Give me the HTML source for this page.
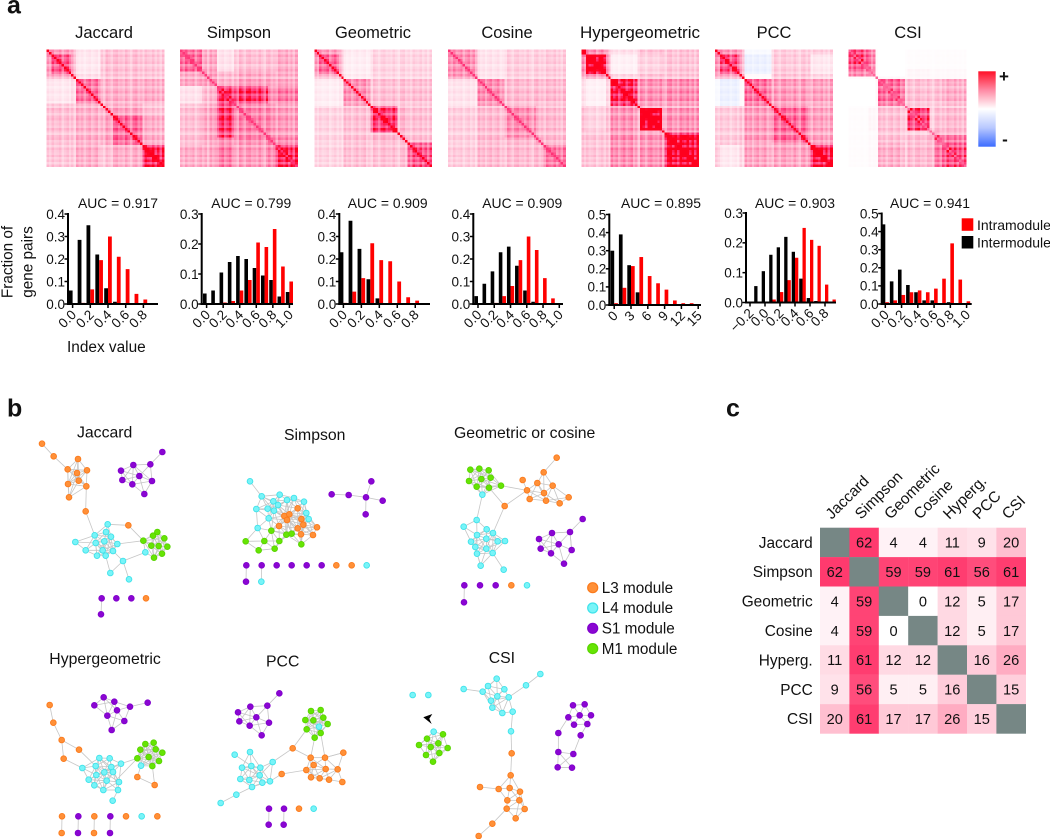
<!DOCTYPE html>
<html lang="en">
<head>
<meta charset="utf-8">
<title>Similarity index comparison</title>
<style>
html,body{margin:0;padding:0;background:#fff;}
svg{display:block;}
text{font-family:"Liberation Sans",Arial,sans-serif;fill:#111;}
</style>
</head>
<body>
<svg id="fig" xmlns="http://www.w3.org/2000/svg" width="1050" height="839" viewBox="0 0 1050 839">
<defs>
<linearGradient id="cbar" x1="0" y1="0" x2="0" y2="1">
<stop offset="0" stop-color="#ff1028"/><stop offset="0.25" stop-color="#ff8aa4"/><stop offset="0.5" stop-color="#ffffff"/><stop offset="0.75" stop-color="#b8c8ff"/><stop offset="1" stop-color="#3c6cff"/>
</linearGradient>
</defs>
<rect x="0" y="0" width="1050" height="839" fill="#fff"/>
<text x="7" y="13.5" font-size="25" font-weight="bold">a</text>
<text x="7" y="416.5" font-size="25" font-weight="bold">b</text>
<text x="726" y="416.5" font-size="25" font-weight="bold">c</text>
<rect x="978.3" y="71.3" width="17.4" height="75.4" fill="url(#cbar)"/>
<text x="1004" y="82" font-size="17" font-weight="bold" text-anchor="middle">+</text>
<text x="1005" y="145" font-size="17" font-weight="bold" text-anchor="middle">-</text>
<text transform="translate(12.5,262) rotate(-90)" font-size="15.3" text-anchor="middle">Fraction of</text>
<text transform="translate(32.5,262) rotate(-90)" font-size="15.3" text-anchor="middle">gene pairs</text>
<text x="67" y="352" font-size="15.4">Index value</text>
<rect x="961.7" y="218.3" width="11.6" height="12.5" fill="#ff0000"/>
<text x="977" y="230" font-size="14">Intramodule</text>
<rect x="961.7" y="236" width="11.6" height="12.5" fill="#000"/>
<text x="977" y="247.5" font-size="14">Intermodule</text>
<polygon points="423.3,717.3 432.3,714 429.3,718.7 431.7,724" fill="#000"/>
</svg>
<script>
// ---------- heatmap data: gene counts per block and upper-triangle block values (percent) ----------
const geneFactor = [1.05,.9,1.1,.95,1.0,1.1,.85,1.0,1.1,.9,1.05,.8,1.1,.95,1.05,.85,1.0,1.1,.9,1.0,1.1,.85,.95,.8,1.1,1.0,.85,1.05,1.1,.95,1.0,.9,1.1,.95,.8,1.05,1.1,.9,1.0,.85,1.1,1.0,.95,1.1,.9,1.05,.85,1.1];
const jaccardBands = [2,8,2,10,5,12,9];
const jaccardValues = [[40,35,30,10,22,22,20],[55,30,8,22,22,20],[30,12,22,22,20],[48,28,28,28],[30,32,22],[52,28],[78]];
const simpsonBands = [9,6,7,14,3,9];
const simpsonValues = [[50,30,10,22,22,28],[35,25,32,30,30],[72,72,40,45],[44,40,35],[45,40],[75]];
const geometricBands = [2,8,2,11,11,4,10];
const geometricValues = [[45,35,25,8,15,15,15],[50,25,6,15,15,15],[25,8,15,15,15],[38,22,22,22],[68,25,22],[25,22],[58]];
const cosineBands = [12,11,13,3,9];
const cosineValues = [[38,10,17,17,18],[40,24,24,24],[40,26,24],[28,24],[45]];
const hyperBands = [2,8,2,11,1,9,1,14];
const hyperValues = [[95,40,30,12,25,22,25,22],[100,35,5,20,15,20,20],[35,15,25,22,25,22],[80,40,38,35,40],[40,30,30,30],[100,30,38],[40,30],[95]];
const pccBands = [2,8,2,11,15,1,9];
const pccValues = [[40,38,30,-3,18,20,18],[60,30,-8,18,20,8],[35,2,22,22,15],[50,35,30,32],[52,35,32],[40,35],[82]];
const csiBands = [8,3,1,11,1,9,2,3,10];
const csiValues = [[62,42,2,0,1,1,1,1,1],[35,2,0,2,3,2,2,2],[5,4,3,3,3,3,3],[52,22,22,22,22,28],[25,22,22,22,20],[65,18,22,24],[30,30,28],[50,45],[62]];
const heatTitles = ['Jaccard','Simpson','Geometric','Cosine','Hypergeometric','PCC','CSI'];
const heatDiagonals = [100,78,100,80,100,100,60];

// ---------- histogram data ----------
const jaccardInter = [.06,.285,.35,.22,.07,.01,0,0,0,0];
const jaccardIntra = [0,.005,.065,.195,.30,.21,.155,.045,.02,0];
const simpsonInter = [.035,.045,.105,.14,.16,.15,.12,.095,.08,.025,.04];
const simpsonIntra = [0,0,.005,.01,.045,.08,.205,.19,.25,.125,.075];
const geometricInter = [.23,.37,.245,.11,.025,0,0,0,0,0];
const geometricIntra = [.005,.055,.115,.27,.195,.19,.10,.03,.015,0];
const cosineInter = [.035,.09,.145,.23,.255,.17,.06,.01,0,0,0];
const cosineIntra = [0,0,.005,.035,.08,.195,.30,.24,.115,.025,0];
const hyperInter = [.30,.39,.22,.07,.005,0,0,0,0,0,0,0];
const hyperIntra = [.01,.095,.215,.265,.16,.12,.085,.025,.01,.01,0,0];
const pccInter = [0,.055,.105,.16,.185,.22,.17,.08,.015,.005,0,0];
const pccIntra = [0,0,0,.01,.035,.075,.15,.25,.21,.19,.06,.01];
const csiInter = [.44,.125,.19,.105,.065,.02,.02,0,.01,0,0];
const csiIntra = [.01,.02,.05,.065,.075,.065,.085,.14,.335,.135,.015];
const aucLabels = ['AUC = 0.917','AUC = 0.799','AUC = 0.909','AUC = 0.909','AUC = 0.895','AUC = 0.903','AUC = 0.941'];
const ticks04 = [0,.1,.2,.3,.4];
const ticks03 = [0,.1,.2,.3];
const ticks05 = [0,.1,.2,.3,.4,.5];
const labels08 = ['0.0','0.2','0.4','0.6','0.8'];
const labels10 = ['0.0','0.2','0.4','0.6','0.8','1.0'];
const labelsHyper = ['0','3','6','9','12','15'];
const labelsPcc = ['\u22120.2','0.0','0.2','0.4','0.6','0.8'];

// ---------- overlap matrix data ----------
const matrixLabels = ['Jaccard','Simpson','Geometric','Cosine','Hyperg.','PCC','CSI'];
const matrixValues = [
[null,62,4,4,11,9,20],
[62,null,59,59,61,56,61],
[4,59,null,0,12,5,17],
[4,59,0,null,12,5,17],
[11,61,12,12,null,16,26],
[9,56,5,5,16,null,15],
[20,61,17,17,26,15,null]];

const NS = 'http://www.w3.org/2000/svg';
const fig = document.getElementById('fig');
function make(tag, parent, attrs, txt){
  const el = document.createElementNS(NS, tag);
  for (const k in attrs) el.setAttribute(k, attrs[k]);
  if (txt !== undefined) el.textContent = txt;
  parent.appendChild(el);
  return el;
}
function heatColor(v){
  if (v >= 0){
    const t = Math.min(1, v/100);
    const blue = t < .8 ? 255-170*t : 119-445*(t-.8);
    return 'rgb(255,' + Math.round(255*(1-t)) + ',' + Math.round(blue) + ')';
  }
  const t = Math.min(1, -v/100);
  return 'rgb(' + Math.round(255-195*t) + ',' + Math.round(255-155*t) + ',255)';
}

// ---------- heatmaps ----------
const heatBands = [jaccardBands,simpsonBands,geometricBands,cosineBands,hyperBands,pccBands,csiBands];
const heatValues = [jaccardValues,simpsonValues,geometricValues,cosineValues,hyperValues,pccValues,csiValues];
const heatLeft = [46.7,180,314.3,448,581.3,715,848.7];
const heatTop = 49.4, heatSize = 117.6;
const heatTitleX = [104,239,373,507,640,774,908];
heatTitles.forEach(function(title,m){
  const g = make('g', fig, {'shape-rendering':'crispEdges'});
  
  
  const bandOf = [];
  heatBands[m].forEach(function(n,b){ for (let k=0;k<n;k++) bandOf.push(b); });
  const n = bandOf.length, cs = heatSize/n;
  for (let i=0;i<n;i++){
    for (let j=0;j<n;j++){
      const a = Math.min(bandOf[i],bandOf[j]), b = Math.max(bandOf[i],bandOf[j]);
      let v = heatValues[m][a][b-a]*1.1*Math.pow(geneFactor[i]*geneFactor[j],1.8);
      if (Math.abs(i-j) === 1) v = v*1.25;
      if (i === j) v = heatDiagonals[m];
      const c = make('rect', g, {x:(heatLeft[m]+j*cs).toFixed(2), y:(heatTop+i*cs).toFixed(2), width:(cs+.2).toFixed(2), height:(cs+.2).toFixed(2), fill:heatColor(v)});
      
      
    }
  }
  const t = make('text', fig, {x:heatTitleX[m], y:38, 'font-size':title==='Hypergeometric'?17:16.5, 'text-anchor':'middle'}, title);
  
  
});

// ---------- histograms ----------
const charts = [
 {id:'jaccard',axisX:68,y0:304,yTop:214,yMax:.4,end:158,tick0:72.6,binW:8.85,barW:3.8,inter:jaccardInter,intra:jaccardIntra,yTicks:ticks04,xLabels:labels08,aucX:78},
 {id:'simpson',axisX:201.7,y0:304,yTop:214,yMax:.3,end:293,tick0:206.6,binW:8.28,barW:3.6,inter:simpsonInter,intra:simpsonIntra,yTicks:ticks03,xLabels:labels10,aucX:211.3},
 {id:'geometric',axisX:339.3,y0:304,yTop:214,yMax:.4,end:430,tick0:343.4,binW:8.98,barW:3.8,inter:geometricInter,intra:geometricIntra,yTicks:ticks04,xLabels:labels08,aucX:347.7},
 {id:'cosine',axisX:473.3,y0:304,yTop:214,yMax:.4,end:563,tick0:478,binW:8.13,barW:3.6,inter:cosineInter,intra:cosineIntra,yTicks:ticks04,xLabels:labels10,aucX:482.3},
 {id:'hypergeometric',axisX:609.3,y0:305,yTop:214.5,yMax:.5,end:701,tick0:614.2,binW:8.4,barW:3.7,inter:hyperInter,intra:hyperIntra,yTicks:ticks05,xLabels:labelsHyper,aucX:621},
 {id:'pcc',axisX:746,y0:302.5,yTop:213,yMax:.3,end:836,tick0:750,binW:7.5,barW:3.3,inter:pccInter,intra:pccIntra,yTicks:ticks03,xLabels:labelsPcc,aucX:755},
 {id:'csi',axisX:881.7,y0:304,yTop:213.5,yMax:.5,end:971.7,tick0:885.3,binW:8.13,barW:3.6,inter:csiInter,intra:csiIntra,yTicks:ticks05,xLabels:labels10,aucX:890}
];
charts.forEach(function(c,m){
  const g = make('g', fig, {});
  
  
  const yScale = function(v){ return c.y0 - v/c.yMax*(c.y0-c.yTop); };
  const xScale = function(i){ return c.tick0 + i*c.binW; };
  c.inter.forEach(function(v,i){
    if (v <= 0) return;
    const b = make('rect', g, {x:xScale(i)-c.barW, y:yScale(v), width:c.barW, height:c.y0-yScale(v), fill:'#000'});
    
    
  });
  c.intra.forEach(function(v,i){
    if (v <= 0) return;
    const b = make('rect', g, {x:xScale(i), y:yScale(v), width:c.barW, height:c.y0-yScale(v), fill:'#ff0000'});
    
    
  });
  const ya = make('line', g, {x1:c.axisX, x2:c.axisX, y1:c.yTop-1, y2:c.y0+1, stroke:'#000', 'stroke-width':2});
  
  
  const xa = make('line', g, {x1:c.axisX-1, x2:c.end, y1:c.y0, y2:c.y0, stroke:'#000', 'stroke-width':2});
  
  
  c.yTicks.forEach(function(v){
    const y = yScale(v);
    const tk = make('line', g, {x1:c.axisX-3.5, x2:c.axisX, y1:y, y2:y, stroke:'#000', 'stroke-width':1.5});
    
    
    const lb = make('text', g, {x:c.axisX-3, y:y+4.8, 'font-size':13.5, 'text-anchor':'end'}, v.toFixed(1));
    
    
  });
  c.xLabels.forEach(function(s,k){
    const x = xScale(k*2);
    const tk = make('line', g, {x1:x, x2:x, y1:c.y0, y2:c.y0+4, stroke:'#000', 'stroke-width':1.5});
    
    
    const lb = make('text', g, {transform:'translate(' + (x+4.5) + ',' + (c.y0+11.5) + ') rotate(-45)', 'font-size':13.5, 'text-anchor':'end'}, s);
    
    
  });
  const au = make('text', g, {x:c.aucX, y:208, 'font-size':13.9}, aucLabels[m]);
  
  
});

// ---------- network panels (layout coordinates at 3x, drawn at 1/3 scale) ----------
const netFill = {o:'#ff9038', c:'#78f4f8', p:'#8a06d2', g:'#66e404'};
const netRing = {o:'#fb7a1c', c:'#3fe2ea', p:'#8000cc', g:'#58d400'};
const networks = [
 {id:'jaccard',ox:0,oy:390,clusters:[
  {link:85,o:[[234,207],[203,238],[231,249],[261,241],[236,272],[204,282],[259,289],[207,322]]},
  {link:75,p:[[451,223],[400,225],[363,242],[418,258],[367,270],[397,283],[456,273],[433,312]]},
  {link:62,c:[[323,403],[284,436],[318,426],[333,440],[226,456],[287,459],[313,454],[352,462],[257,481],[308,481],[339,483],[291,497],[317,497]]},
  {link:70,g:[[472,426],[459,437],[493,445],[430,452],[454,467],[476,468],[502,470],[486,491],[462,503]]},
  {link:0,o:[[126,161],[161,199],[257,364],[385,406],[438,625]],p:[[487,186],[305,625],[349,625],[394,625],[303,673]],c:[[436,487],[369,513],[331,549],[387,568]]}],
  links:[[126,161,161,199],[161,199,203,238],[259,289,257,364],[257,364,284,436],[323,403,385,406],[385,406,430,452],[352,462,430,452],[369,513,436,487],[369,513,331,549],[369,513,387,568],[305,625,303,673],[487,186,451,223],[339,483,369,513],[317,497,331,549],[436,487,462,503],[436,487,430,452]]},
 {id:'simpson',ox:0,oy:390,clusters:[
  {link:62,c:[[785,319],[839,314],[820,334],[861,330],[882,324],[912,335],[834,345],[769,357],[803,356],[822,362],[919,369],[926,387],[806,385],[773,414]],
   o:[[893,355],[853,378],[868,373],[861,390],[904,387],[837,408],[893,415],[910,404],[951,412],[903,433],[939,435]],
   g:[[814,422],[859,434],[875,431],[737,454],[793,453],[838,453],[904,463],[776,481],[824,476]]},
  {link:58,p:[[995,313],[1046,315],[1098,322],[1114,274],[1148,332],[1097,373]]},
  {link:0,c:[[750,274],[784,575],[1100,526]],p:[[739,526],[785,526],[830,526],[875,526],[920,526],[965,526],[738,575]],o:[[1009,526],[1055,526]]}],
  links:[[750,274,785,319],[739,526,738,575],[785,526,784,575]]},
 {id:'geometric-or-cosine',ox:340,oy:400,clusters:[
  {link:75,g:[[391,209],[418,206],[446,211],[387,243],[424,237],[452,233],[410,260],[447,263],[483,257]],c:[[427,284]]},
  {link:70,o:[[611,217],[592,249],[638,257],[561,271],[612,279],[569,297],[618,302],[659,310],[686,292]]},
  {link:62,c:[[410,360],[371,380],[440,388],[459,399],[411,405],[439,416],[473,424],[495,423],[393,425],[406,441],[439,446],[411,461],[458,459],[422,497]]},
  {link:62,p:[[690,396],[636,399],[597,417],[656,433],[602,446],[633,460],[695,450],[672,491]]},
  {link:0,o:[[650,173],[548,240],[494,318],[514,556]],c:[[491,509],[561,556]],p:[[728,357],[373,556],[420,556],[467,556],[372,607]]}],
  links:[[650,173,611,217],[483,257,561,271],[447,263,494,318],[494,318,561,271],[427,284,410,360],[494,318,459,399],[458,459,491,509],[548,240,561,271],[728,357,690,396],[373,556,372,607],[690,396,636,399],[695,450,690,396]]},
 {id:'hypergeometric',ox:0,oy:630,clusters:[
  {link:62,p:[[311,202],[343,215],[283,226],[390,230],[351,241],[322,257],[373,273],[335,300]]},
  {link:62,c:[[298,384],[329,385],[363,401],[247,414],[287,408],[334,411],[313,427],[339,426],[289,435],[266,449],[320,452],[357,456],[283,466],[310,480],[354,480]]},
  {link:75,g:[[436,342],[461,338],[421,359],[467,358],[487,368],[412,385],[446,381],[477,393],[457,408]],c:[[423,407]]},
  {link:0,o:[[149,225],[160,278],[185,330],[237,359],[191,386],[412,441],[464,465],[186,559],[283,559],[378,559],[472,559],[185,609],[282,609]],p:[[443,218],[235,559],[331,559],[234,609],[330,609]],c:[[338,512],[425,559]]}],
  links:[[149,225,160,278],[160,278,185,330],[185,330,237,359],[185,330,191,386],[191,386,247,414],[237,359,287,408],[363,401,412,385],[423,407,412,441],[412,441,464,465],[457,408,464,465],[343,456,412,385],[354,480,338,512],[443,218,390,230],[186,559,185,609],[235,559,234,609],[283,559,282,609],[331,559,330,609]]},
 {id:'pcc',ox:0,oy:630,clusters:[
  {link:62,p:[[802,227],[751,230],[714,247],[769,262],[718,274],[749,287],[807,278],[785,316]]},
  {link:70,g:[[933,243],[962,240],[916,270],[940,271],[970,263],[983,282],[920,298],[962,309],[944,323]],c:[[957,290]]},
  {link:62,o:[[932,383],[975,383],[941,405],[919,420],[977,417],[1013,418],[933,442],[959,445],[987,449],[1027,456],[1030,368]]},
  {link:62,c:[[750,366],[818,396],[726,413],[754,408],[781,413],[779,436],[721,447],[748,450],[787,458],[810,454],[756,471]]},
  {link:0,p:[[838,190],[807,536],[852,536],[806,584],[851,584]],o:[[878,355],[845,432],[897,536]],c:[[704,374],[709,494],[662,519],[941,536]]}],
  links:[[838,190,802,227],[818,396,878,355],[878,355,920,298],[878,355,932,383],[810,454,845,432],[845,432,919,420],[944,323,932,383],[962,309,975,383],[756,471,709,494],[709,494,662,519],[704,374,754,408],[807,536,806,584],[852,536,851,584],[1030,368,975,383]]},
 {id:'csi',ox:340,oy:630,clusters:[
  {link:62,c:[[281,305]],g:[[309,313],[261,326],[295,340],[237,345],[272,351],[323,354],[298,369],[258,375],[279,395]]},
  {link:62,c:[[470,146],[444,168],[493,178],[428,185],[472,199],[506,202],[453,212],[457,233],[487,249],[518,245]]},
  {link:58,o:[[512,436],[476,477],[509,474],[540,485],[502,511],[538,511],[500,536],[554,537],[527,565]]},
  {link:50,p:[[699,226],[734,223],[685,262],[719,256],[753,256],[702,284],[742,282]]},
  {link:0,c:[[218,195],[265,195],[601,132],[558,166],[371,177],[513,304]],o:[[515,370],[420,471],[457,581],[416,618]],p:[[655,309],[722,316],[655,366],[700,372],[653,412],[696,413]]}],
  links:[[601,132,558,166],[558,166,506,202],[371,177,428,185],[518,245,513,304],[513,304,515,370],[515,370,512,436],[420,471,476,477],[500,536,457,581],[457,581,416,618],[685,262,655,309],[742,282,722,316],[655,309,655,366],[722,316,700,372],[655,366,700,372],[655,366,653,412],[655,366,696,413],[700,372,653,412],[653,412,696,413]]}
];
networks.forEach(function(net){
  const g = make('g', fig, {});
  
  
  const px = function(x){ return net.ox + x/3; };
  const py = function(y){ return net.oy + y/3; };
  const edge = function(a,b,c,d){
    const e = make('line', g, {x1:px(a), y1:py(b), x2:px(c), y2:py(d), stroke:'#c6c6c6', 'stroke-width':.8});
    
    
  };
  net.clusters.forEach(function(cl){
    const pts = [];
    ['o','c','p','g'].forEach(function(t){ (cl[t]||[]).forEach(function(q){ pts.push([q[0],q[1],t]); }); });
    cl.pts = pts;
    for (let i=0;i<pts.length;i++) for (let j=i+1;j<pts.length;j++){
      if (Math.hypot(pts[i][0]-pts[j][0], pts[i][1]-pts[j][1]) < cl.link) edge(pts[i][0],pts[i][1],pts[j][0],pts[j][1]);
    }
  });
  net.links.forEach(function(l){ edge(l[0],l[1],l[2],l[3]); });
  net.clusters.forEach(function(cl){
    cl.pts.forEach(function(q){
      const n = make('circle', g, {cx:px(q[0]), cy:py(q[1]), r:2.85, fill:netFill[q[2]], stroke:netRing[q[2]], 'stroke-width':.9});
      
      
    });
  });
});
const netTitles = [['Jaccard',77,437.3],['Simpson',284,440],['Geometric or cosine',454,438],['Hypergeometric',49.3,664],['PCC',266,666.7],['CSI',488.7,663]];
netTitles.forEach(function(t){
  const el = make('text', fig, {x:t[1], y:t[2], 'font-size':15.8}, t[0]);
  
  
});

// ---------- network legend ----------
const legendNames = ['L3 module','L4 module','S1 module','M1 module'];
const legendKeys = ['o','c','p','g'];
legendNames.forEach(function(s,i){
  const y = 587.7 + i*20.3;
  const d = make('circle', fig, {cx:592.7, cy:y, r:5, fill:netFill[legendKeys[i]], stroke:netRing[legendKeys[i]], 'stroke-width':1.2});
  
  
  const t = make('text', fig, {x:601.7, y:y+5.2, 'font-size':15.3}, s);
  
  
});

// ---------- overlap matrix ----------
const mx0 = 820, my0 = 527.7, mCell = 29.4;
function matrixColor(v){
  const t = v/62;
  return 'rgb(255,' + Math.round(255-197*t) + ',' + Math.round(255-145*t) + ')';
}
matrixValues.forEach(function(row,r){
  row.forEach(function(v,c){
    const rc = make('rect', fig, {x:mx0+c*mCell, y:my0+r*mCell, width:mCell+.2, height:mCell+.2, fill:v===null?'#768785':matrixColor(v)});
    
    
    if (v !== null){
      const t = make('text', fig, {x:mx0+(c+.5)*mCell, y:my0+(r+.5)*mCell+5.2, 'font-size':14.6, 'text-anchor':'middle'}, String(v));
      
      
    }
  });
});
matrixLabels.forEach(function(s,i){
  const rl = make('text', fig, {x:812.7, y:my0+(i+.5)*mCell+5.4, 'font-size':15.4, 'text-anchor':'end'}, s);
  
  
  const cl = make('text', fig, {transform:'translate(' + (831.7+i*mCell) + ',520) rotate(-45)', 'font-size':15.4}, s);
  
  
});
</script>
</body>
</html>
